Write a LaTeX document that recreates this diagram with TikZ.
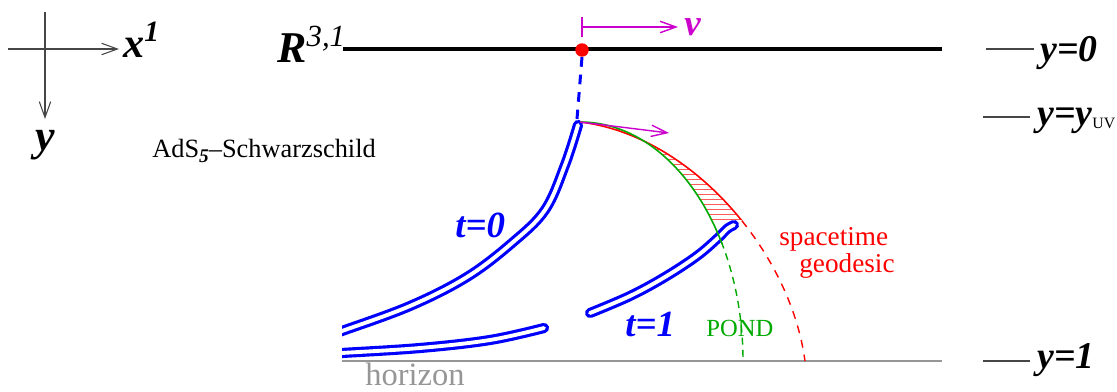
\documentclass[tikz,border=0pt]{standalone}
\usepackage{fontspec}
\setmainfont{Liberation Serif}
\usetikzlibrary{arrows.meta}
\definecolor{tubeblue}{RGB}{0,0,255}
\definecolor{vmag}{RGB}{204,0,204}
\definecolor{pgreen}{RGB}{0,170,0}
\definecolor{hgray}{RGB}{150,150,150}
\definecolor{agray}{RGB}{70,70,70}
\definecolor{hatchred}{RGB}{255,90,90}
\newcommand{\fsz}[1]{\fontsize{#1}{#1}\selectfont}
\begin{document}
\begin{tikzpicture}[x=0.02cm,y=-0.02cm,
  lbl/.style={inner sep=0pt, anchor=base west},
  openarrow/.style={-{Straight Barb[length=9pt,width=6.5pt]}},
  axisline/.style={draw=agray, line width=0.6pt},
  tickline/.style={draw=agray, line width=0.8pt},
  tube/.style={draw=tubeblue, line width=1.8pt, double=white, double distance=2.2pt, line cap=round},
  magline/.style={draw=vmag, line width=0.8pt},
  geo/.style={draw=red, line width=0.9pt},
  pond/.style={draw=pgreen, line width=0.9pt},
  hatchline/.style={draw=hatchred, line width=0.35pt}]
\useasboundingbox (0,0) rectangle (1117,392);

% axes cross
\coordinate (axL) at (8,49);
\coordinate (axR) at (119,49);
\coordinate (axT) at (45,12);
\coordinate (axB) at (45,119);
\draw[axisline, openarrow] (axL) -- (axR);
\draw[axisline, openarrow] (axT) -- (axB);
\node[lbl] (xlab) at (123,57) {\fsz{24}\bfseries\itshape x\textsuperscript{1}};
\node[lbl] (ylab) at (35,150) {\fsz{25}\bfseries\itshape y};

% boundary R^{3,1}
\node[lbl] (rlab) at (277,62) {\fsz{25}\bfseries\itshape R\textsuperscript{\mdseries 3,1}};
\coordinate (bL) at (343,49);
\coordinate (bR) at (942,49);
\draw[line width=2.4pt] (bL) -- (bR);

% velocity marker
\coordinate (vtickT) at (582,17);
\coordinate (vtickB) at (582,37);
\coordinate (vS) at (582,27);
\coordinate (vE) at (678,27);
\draw[magline] (vtickT) -- (vtickB);
\draw[magline, openarrow] (vS) -- (vE);
\node[lbl, text=vmag] (vlab) at (684,35) {\fsz{21}\bfseries\itshape v};

% right labels
\coordinate (t0a) at (986,49);  \coordinate (t0b) at (1034,49);
\coordinate (t1a) at (983,117); \coordinate (t1b) at (1030,117);
\coordinate (t2a) at (983,361); \coordinate (t2b) at (1030,361);
\draw[tickline] (t0a) -- (t0b);
\draw[tickline] (t1a) -- (t1b);
\draw[tickline] (t2a) -- (t2b);
\node[lbl] (y0) at (1040,61) {\fsz{21.5}\bfseries\itshape y=0};
\node[lbl] (yuv) at (1037,125) {\fsz{21.5}\bfseries\itshape y=y\raisebox{-2pt}{\fsz{9}\mdseries\upshape UV}};
\node[lbl] (y1) at (1037,368) {\fsz{21.5}\bfseries\itshape y=1};

% AdS label
\node[lbl] (ads) at (152,157) {\fsz{15}AdS\raisebox{-3pt}{\fsz{11}\bfseries\itshape 5}--Schwarzschild};

% horizon
\coordinate (hL) at (342,361);
\coordinate (hR) at (942,361);
\draw[draw=hgray, line width=1.7pt] (hL) -- (hR);
\node[lbl, text=hgray] (hlab) at (365,385) {\fsz{18.5}horizon};

% tubes
\begin{scope}
\clip (342,0) rectangle (1117,392);
\draw[tube] plot[smooth, tension=0.6] coordinates {(330,335) (342,331) (410,306) (467,277) (512,243) (545,210) (565,165) (578,125)};
\draw[tube] plot[smooth, tension=0.6] coordinates {(330,354) (342,353) (420,348) (490,340) (544,328)};
\end{scope}
\draw[tube] plot[smooth, tension=0.6] coordinates {(590,313) (630,296) (665,277) (697,256) (718,238) (727,229) (734,225)};

% dashed string to boundary
\coordinate (tip0) at (577,119);
\node[circle, fill=red, inner sep=0pt, minimum size=0.27cm] (dot) at (582,50) {};
\draw[tubeblue, line width=1.7pt, dash pattern=on 5.5pt off 4.5pt] (dot.south) -- (tip0);

% geodesics
\coordinate (gS) at (580,122);
\coordinate (rE) at (805,361);
\coordinate (pE) at (743,361);
% hatch
\begin{scope}
\clip (580,126) rectangle (760,221);
\clip (gS) .. controls (690,135) and (790,250) .. (rE) -- (pE) .. controls (743,229) and (670,122) .. (gS) -- cycle;
\foreach \yy in {129,134,...,221} {\draw[hatchline] (580,\yy) -- (760,\yy);}
\end{scope}
% red solid / dashed
\begin{scope}
\clip (500,100) rectangle (900,219);
\draw[geo] (gS) .. controls (690,135) and (790,250) .. (rE);
\end{scope}
\begin{scope}
\clip (500,219) rectangle (900,361);
\draw[geo, line width=0.8pt, dash pattern=on 4.5pt off 4pt] (gS) .. controls (690,135) and (790,250) .. (rE);
\end{scope}
% green solid / dashed
\begin{scope}
\clip (500,100) rectangle (900,243);
\draw[pond] (gS) .. controls (670,122) and (743,229) .. (pE);
\end{scope}
\begin{scope}
\clip (500,243) rectangle (900,361);
\draw[pond, line width=0.8pt, dash pattern=on 4pt off 3pt] (gS) .. controls (670,122) and (743,229) .. (pE);
\end{scope}

% velocity arrow at tip
\coordinate (mE) at (669,133);
\draw[magline, openarrow] (gS) -- (mE);

% labels
\node[lbl, text=tubeblue] (tzero) at (455,237) {\fsz{21}\bfseries\itshape t=0};
\node[lbl, text=tubeblue] (tone) at (625,336) {\fsz{21}\bfseries\itshape t=1};
\node[lbl, text=pgreen] (pondlab) at (706,336) {\fsz{14}POND};
\node[lbl, text=red] (st1) at (779,245) {\fsz{15.5}spacetime};
\node[lbl, text=red] (st2) at (799,272) {\fsz{15.5}geodesic};
\end{tikzpicture}
\end{document}
